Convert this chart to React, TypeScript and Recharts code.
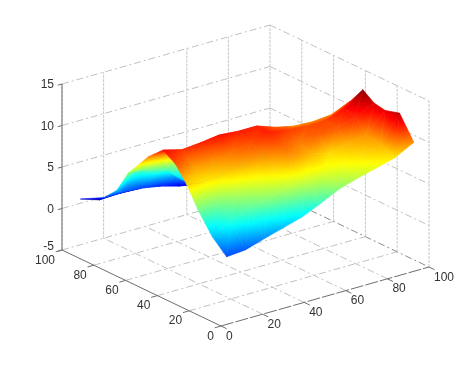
import React from 'react';
import { ComposedChart, Line, Scatter, XAxis, YAxis } from 'recharts';

// Surface samples
const xs = [5, 14, 23, 32, 41, 50, 59, 68, 77, 86, 95];
const ys = [3, 12, 21, 28, 35, 43, 52, 65, 72, 80, 95];
const zRow3 = [2.7, 2.9, 3.6, 4.25, 4.9, 5.9, 7.0, 7.7, 8.3, 8.9, 10.1];
const zRow12 = [4.3, 5.6, 6.3, 7.0, 7.6, 8.0, 8.2, 8.5, 9.0, 9.6, 12.8];
const zRow21 = [6.7, 6.8, 7.7, 8.4, 9.2, 10.0, 9.6, 9.1, 9.6, 10.1, 12.3];
const zRow28 = [9.1, 8.8, 9.2, 9.8, 10.2, 10.8, 10.4, 10.8, 10.8, 11.5, 12.55];
const zRow35 = [10.9, 9.8, 10, 10.5, 11, 11.6, 11.2, 11, 11.1, 11.9, 13.5];
const zRow43 = [11.9, 11.3, 11.5, 11.8, 11.6, 11.6, 10.8, 10.3, 10.2, 10.4, 11.4];
const zRow52 = [10.3, 9.8, 9, 8.5, 8, 8, 7.5, 7, 7, 7, 8];
const zRow65 = [7.1, 7, 6.3, 4.3, 3.8, 3.5, 3.5, 4, 4, 4.5, 5.5];
const zRow72 = [4.4, 6.1, 5, 4.3, 3, 2.8, 3, 3, 3, 3.5, 4];
const zRow80 = [2.8, 2.8, 2.66, 2.26, 1.63, 1.2, 1.5, 2, 2, 3, 3];
const zRow95 = [1.24, 0.5, 0.6, 1, 1, 0.8, 1, 1, 1.5, 2, 2.5];
const zGrid = [zRow3, zRow12, zRow21, zRow28, zRow35, zRow43, zRow52, zRow65, zRow72, zRow80, zRow95];

const xTicks = [0, 20, 40, 60, 80, 100];
const yTicks = [0, 20, 40, 60, 80, 100];
const zTicks = [-5, 0, 5, 10, 15];
const backWallXTicks = [0, 20, 60, 80, 100];

const W = 474;
const H = 366;
const Z_COLOR_MAX = 13.7;

// Fixed orthographic view of the 3D box
const project = (x: number, y: number, z: number) => ({
  px: 221 + 2.08 * x - 1.59 * y,
  py: 326 - 0.59 * x - 0.76 * y - 8.3 * (z + 5),
});

const clamp01 = (v: number) => Math.max(0, Math.min(1, v));
const jet = (f: number) => {
  const t = clamp01(f);
  const r = clamp01(Math.min(4 * t - 1.5, 4.5 - 4 * t));
  const g = clamp01(Math.min(4 * t - 0.5, 3.5 - 4 * t));
  const b = clamp01(Math.min(4 * t + 0.5, 2.5 - 4 * t));
  return `rgb(${Math.round(r * 255)},${Math.round(g * 255)},${Math.round(b * 255)})`;
};

type V = { px: number; py: number; z: number };
type Facet = { px: number; py: number; id: string; verts: V[]; depth: number };

const makeFacet = (id: string, verts: V[], depth: number): Facet => ({
  id,
  verts,
  depth,
  px: (verts[0].px + verts[1].px + verts[2].px) / 3,
  py: (verts[0].py + verts[1].py + verts[2].py) / 3,
});

const facets: Facet[] = [];
ys.slice(0, -1).forEach((y0, j) => {
  xs.slice(0, -1).forEach((x0, i) => {
    const corner = (a: number, b: number): V => ({
      ...project(xs[i + a], ys[j + b], zGrid[j + b][i + a]),
      z: zGrid[j + b][i + a],
    });
    const a = corner(0, 0);
    const b = corner(1, 0);
    const c = corner(1, 1);
    const d = corner(0, 1);
    const depth = 1.59 * (x0 + xs[i + 1]) / 2 + 2.08 * (y0 + ys[j + 1]) / 2;
    facets.push(makeFacet(`f${j}-${i}-a`, [a, b, c], depth));
    facets.push(makeFacet(`f${j}-${i}-b`, [a, c, d], depth));
  });
});
facets.sort((p, q) => q.depth - p.depth);

const FacetShape = (props: any) => {
  const { cx, cy, payload } = props;
  const f: Facet = payload;
  if (!f || !f.verts) return null;
  const ox = cx - f.px;
  const oy = cy - f.py;
  const p = f.verts.map((v) => ({ x: v.px + ox, y: v.py + oy, z: v.z }));
  const points = p.map((v) => `${v.x},${v.y}`).join(' ');
  const zs = p.map((v) => v.z);
  const zMin = Math.min(...zs);
  const zMax = Math.max(...zs);
  if (zMax - zMin < 1e-6) {
    const c = jet(zMin / Z_COLOR_MAX);
    return <polygon points={points} fill={c} stroke={c} strokeWidth={0.6} />;
  }
  // screen-space gradient of z across the triangle
  const e1x = p[1].x - p[0].x, e1y = p[1].y - p[0].y, dz1 = p[1].z - p[0].z;
  const e2x = p[2].x - p[0].x, e2y = p[2].y - p[0].y, dz2 = p[2].z - p[0].z;
  const det = e1x * e2y - e2x * e1y || 1e-6;
  const gx = (dz1 * e2y - dz2 * e1y) / det;
  const gy = (e1x * dz2 - e2x * dz1) / det;
  const g2 = gx * gx + gy * gy || 1e-6;
  const low = p[zs.indexOf(zMin)];
  const span = zMax - zMin;
  const stops = [0, 0.125, 0.25, 0.375, 0.5, 0.625, 0.75, 0.875, 1];
  const gid = `g-${f.id}`;
  return (
    <g>
      <defs>
        <linearGradient
          id={gid}
          gradientUnits="userSpaceOnUse"
          x1={low.x}
          y1={low.y}
          x2={low.x + (gx / g2) * span}
          y2={low.y + (gy / g2) * span}
        >
          {stops.map((s) => (
            <stop key={s} offset={s} stopColor={jet((zMin + s * span) / Z_COLOR_MAX)} />
          ))}
        </linearGradient>
      </defs>
      <polygon points={points} fill={`url(#${gid})`} stroke={`url(#${gid})`} strokeWidth={0.6} />
    </g>
  );
};

type Seg = { key: string; data: { px: number; py: number }[]; kind: string };
const seg = (key: string, kind: string, a: number[], b: number[]): Seg => ({
  key,
  kind,
  data: [project(a[0], a[1], a[2]), project(b[0], b[1], b[2])],
});

const gridSegs: Seg[] = [];
xTicks.forEach((x) => {
  if (x > 0 && x < 100) gridSegs.push(seg(`fx${x}`, 'floor', [x, 0, -5], [x, 100, -5]));
});
yTicks.forEach((y) => {
  if (y > 0 && y < 100) gridSegs.push(seg(`fy${y}`, 'floor', [0, y, -5], [100, y, -5]));
});
gridSegs.push(seg('edgeL', 'floor', [0, 100, -5], [100, 100, -5]));
gridSegs.push(seg('edgeR', 'edge', [100, 100, -5], [100, 0, -5]));
backWallXTicks.forEach((x) => gridSegs.push(seg(`wx${x}`, 'wall', [x, 100, -5], [x, 100, 15])));
yTicks.forEach((y) => {
  if (y < 100) gridSegs.push(seg(`wy${y}`, 'wall', [100, y, -5], [100, y, 15]));
});
zTicks.forEach((z) => {
  if (z > -5) {
    gridSegs.push(seg(`zl${z}`, 'floor', [0, 100, z], [100, 100, z]));
    gridSegs.push(seg(`zr${z}`, 'floor', [100, 100, z], [100, 0, z]));
  }
});

const axisSegs: Seg[] = [
  seg('axZ', 'axis', [0, 100, -5], [0, 100, 15]),
  seg('axY', 'axis', [0, 0, -5], [0, 100, -5]),
  seg('axX', 'axisDash', [0, 0, -5], [100, 0, -5]),
  ...xTicks.map((x) => seg(`tx${x}`, 'axis', [x, -3.5, -5], [x, 0, -5])),
  ...yTicks.map((y) => seg(`ty${y}`, 'axis', [-3, y, -5], [0, y, -5])),
  ...zTicks.map((z) => seg(`tz${z}`, 'axis', [-2, 100, z], [0, 100, z])),
];

const styleFor: Record<string, any> = {
  floor: { stroke: '#c2c2c2', strokeWidth: 1, strokeDasharray: '7 3 2 3' },
  wall: { stroke: '#c8c8c8', strokeWidth: 1, strokeDasharray: '3 1' },
  edge: { stroke: '#8c8c8c', strokeWidth: 1, strokeDasharray: '7 3 2 3' },
  axis: { stroke: '#6e6e6e', strokeWidth: 1 },
  axisDash: { stroke: '#6e6e6e', strokeWidth: 1, strokeDasharray: '13 2' },
};

type Lab = { px: number; py: number; text: string; anchor: string; dx: number; dy: number };
const labels: Lab[] = [
  ...zTicks.map((z) => ({ ...project(0, 100, z), text: String(z), anchor: 'end', dx: -8, dy: z === -5 ? -4 : 0 })),
  ...yTicks.map((y) => ({ ...project(0, y, -5), text: String(y), anchor: 'end', dx: -7, dy: 9.5 })),
  ...xTicks.map((x) => ({ ...project(x, 0, -5), text: String(x), anchor: 'start', dx: 5, dy: 9.5 })),
];

const LabelShape = (props: any) => {
  const { cx, cy, payload } = props;
  return (
    <text
      x={cx + payload.dx}
      y={cy + payload.dy}
      textAnchor={payload.anchor}
      dominantBaseline="central"
      fontFamily="'Liberation Sans', Arial, sans-serif"
      fontSize={12}
      fill="#333333"
    >
      {payload.text}
    </text>
  );
};

export default function App() {
  return (
    <div style={{ position: 'absolute', left: 0, top: 0, width: W, height: H, background: '#fff', filter: 'blur(0.45px)' }}>
      <ComposedChart width={W} height={H} margin={{ top: 0, right: 0, bottom: 0, left: 0 }}>
        <XAxis hide type="number" dataKey="px" domain={[0, W]} allowDataOverflow />
        <YAxis hide type="number" dataKey="py" domain={[0, H]} reversed allowDataOverflow />
        {[...gridSegs, ...axisSegs].map((s) => (
          <Line
            key={s.key}
            data={s.data}
            dataKey="py"
            dot={false}
            activeDot={false}
            legendType="none"
            isAnimationActive={false}
            {...styleFor[s.kind]}
          />
        ))}
        <Scatter data={facets} shape={FacetShape} isAnimationActive={false} />
        <Scatter data={labels} shape={LabelShape} isAnimationActive={false} />
      </ComposedChart>
    </div>
  );
}
